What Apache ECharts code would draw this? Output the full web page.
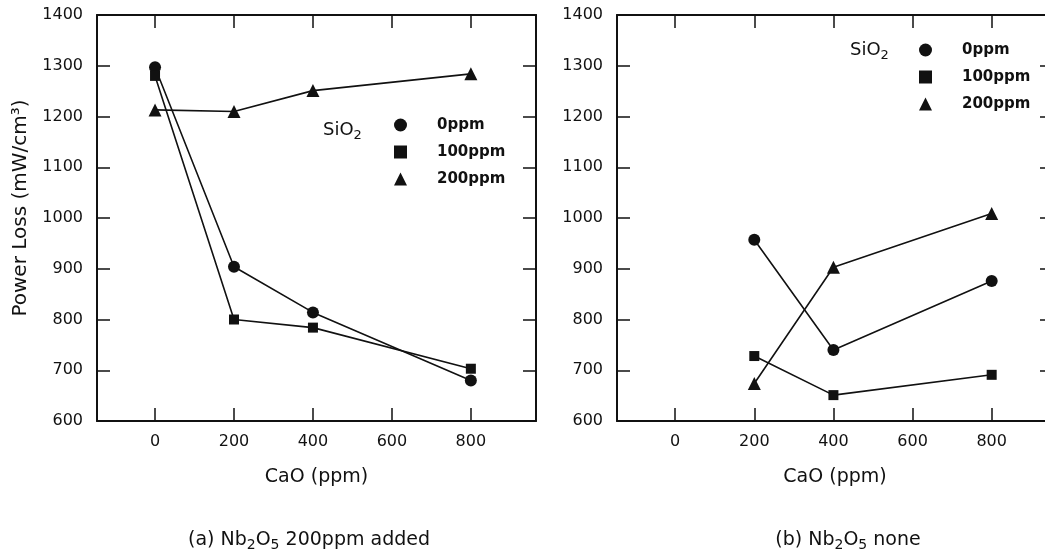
<!DOCTYPE html>
<html>
<head>
<meta charset="utf-8">
<script src="https://cdn.jsdelivr.net/npm/echarts@6/dist/echarts.min.js"></script>
<style>
html, body { margin: 0; padding: 0; background: #fff; }
#chart { width: 1045px; height: 558px; }
</style>
</head>
<body>
<div id="chart"></div>
<script>
// CaO content (ppm) on the x axis
var caoA = [0, 200, 400, 800];
var caoB = [200, 400, 800];

// (a) Nb2O5 200ppm added
var a0ppm = [1297, 904, 814, 680];
var a100ppm = [1280, 800, 784, 703];
var a200ppm = [1213, 1210, 1251, 1284];

// (b) Nb2O5 none
var b0ppm = [957, 740, 876];
var b100ppm = [728, 651, 691];
var b200ppm = [674, 903, 1009];

var xTicks = [0, 200, 400, 600, 800];
var seriesNames = ['0ppm', '100ppm', '200ppm'];
var symbols = ['circle', 'rect', 'triangle'];
var symbolSizes = [12, 10, 13];

var FONT = 'DejaVu Sans';
var INK = '#111';

function pairs(xs, ys) {
    return xs.map(function (x, i) { return [x, ys[i]]; });
}

// text with subscripts, laid out piece by piece
var measureCtx = document.createElement('canvas').getContext('2d');
function subText(parts, x, baseY, size, anchor) {
    var subSize = Math.round(size * 0.72);
    var pieces = parts.map(function (p) {
        var fs = p[1] ? subSize : size;
        measureCtx.font = fs + 'px "' + FONT + '"';
        return { text: p[0], sub: p[1], fs: fs, w: measureCtx.measureText(p[0]).width };
    });
    var total = pieces.reduce(function (s, p) { return s + p.w; }, 0);
    var cx = anchor === 'center' ? x - total / 2 : x;
    var out = [];
    pieces.forEach(function (p) {
        out.push({
            type: 'text',
            x: cx,
            y: baseY + (p.sub ? size * 0.3 : 0),
            style: {
                text: p.text,
                fill: INK,
                font: p.fs + 'px "' + FONT + '"',
                verticalAlign: 'middle'
            }
        });
        cx += p.w;
    });
    return out;
}

function xAxisPair(gridIndex, min, max) {
    var base = {
        type: 'value',
        gridIndex: gridIndex,
        min: min,
        max: max,
        splitLine: { show: false },
        axisLine: { show: true, onZero: false, lineStyle: { color: INK, width: 2 } },
        axisTick: { inside: true, length: 13, customValues: xTicks, lineStyle: { color: INK, width: 1.5 } }
    };
    var bottom = Object.assign({}, base, {
        position: 'bottom',
        axisLabel: { customValues: xTicks, margin: 13, color: INK, fontFamily: FONT, fontSize: 16 },
        name: 'CaO (ppm)',
        nameLocation: 'middle',
        nameGap: 47,
        nameTextStyle: { color: INK, fontFamily: FONT, fontSize: 19 }
    });
    var top = Object.assign({}, base, {
        position: 'top',
        axisLabel: { show: false }
    });
    return [bottom, top];
}

function yAxisPair(gridIndex) {
    var base = {
        type: 'value',
        gridIndex: gridIndex,
        min: 600,
        max: 1400,
        interval: 100,
        splitLine: { show: false },
        axisLine: { show: true, onZero: false, lineStyle: { color: INK, width: 2 } },
        axisTick: { inside: true, length: 13, lineStyle: { color: INK, width: 1.5 } }
    };
    var left = Object.assign({}, base, {
        position: 'left',
        axisLabel: {
            margin: 14, color: INK, fontFamily: FONT, fontSize: 16,
            formatter: function (v) { return String(v); }
        }
    });
    var right = Object.assign({}, base, {
        position: 'right',
        axisLabel: { show: false }
    });
    return [left, right];
}

function lineSeries(name, idx, axisIndex, xs, ys) {
    return {
        name: name,
        type: 'line',
        xAxisIndex: axisIndex,
        yAxisIndex: axisIndex,
        data: pairs(xs, ys),
        symbol: symbols[idx],
        symbolSize: symbolSizes[idx],
        showAllSymbol: true,
        lineStyle: { color: INK, width: 1.6 },
        itemStyle: { color: INK },
        z: 3 + idx
    };
}

function legendFor(left, top) {
    return {
        orient: 'vertical',
        left: left,
        top: top,
        padding: 0,
        itemWidth: 13,
        itemHeight: 13,
        itemGap: 11,
        selectedMode: false,
        data: seriesNames.map(function (n, i) { return { name: n, icon: symbols[i] }; }),
        textStyle: {
            color: INK,
            fontFamily: FONT,
            fontWeight: 'bold',
            fontSize: 15,
            lineHeight: 16,
            padding: [0, 0, 0, 25]
        }
    };
}

var xa = xAxisPair(0, -147, 965);
var xb = xAxisPair(1, -147, 955);
var ya = yAxisPair(0);
var yb = yAxisPair(1);

var graphics = []
    .concat(subText([['SiO', false], ['2', true]], 323, 130, 18, 'left'))
    .concat(subText([['SiO', false], ['2', true]], 850, 50, 18, 'left'))
    .concat(subText([['(a) Nb', false], ['2', true], ['O', false], ['5', true], [' 200ppm added', false]], 309, 540, 19, 'center'))
    .concat(subText([['(b) Nb', false], ['2', true], ['O', false], ['5', true], [' none', false]], 848, 540, 19, 'center'));

graphics.push({
    type: 'text',
    x: 21,
    y: 208,
    rotation: Math.PI / 2,
    style: {
        text: 'Power Loss (mW/cm\u00b3)',
        fill: INK,
        font: '20px "DejaVu Sans"',
        align: 'center',
        verticalAlign: 'middle'
    }
});

var chart = echarts.init(document.getElementById('chart'));
chart.setOption({
    animation: false,
    backgroundColor: '#fff',
    grid: [
        { left: 97, width: 439, top: 15, height: 406, outerBoundsMode: 'none' },
        { left: 617, width: 436, top: 15, height: 406, outerBoundsMode: 'none' }
    ],
    // index order: 0 bottom-a, 1 bottom-b, 2 top-a, 3 top-b
    xAxis: [xa[0], xb[0], xa[1], xb[1]],
    yAxis: [ya[0], yb[0], ya[1], yb[1]],
    legend: [legendFor(394, 117), legendFor(919, 42)],
    series: [
        lineSeries(seriesNames[0], 0, 0, caoA, a0ppm),
        lineSeries(seriesNames[1], 1, 0, caoA, a100ppm),
        lineSeries(seriesNames[2], 2, 0, caoA, a200ppm),
        lineSeries(seriesNames[0], 0, 1, caoB, b0ppm),
        lineSeries(seriesNames[1], 1, 1, caoB, b100ppm),
        lineSeries(seriesNames[2], 2, 1, caoB, b200ppm)
    ],
    graphic: graphics
});
window.addEventListener('resize', function () {
    chart.resize();
});
</script>
</body>
</html>
